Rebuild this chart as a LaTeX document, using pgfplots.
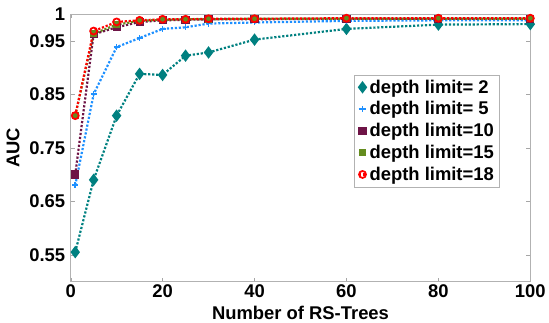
\documentclass[border=0pt]{standalone}
\usepackage{pgfplots}
\pgfplotsset{compat=1.18}
\usepackage{fontspec}
\setmainfont{Liberation Sans}
\definecolor{cA}{RGB}{0,128,128}
\definecolor{cB}{RGB}{30,144,255}
\definecolor{cC}{RGB}{110,20,70}
\definecolor{cD}{RGB}{100,140,30}
\definecolor{cE}{RGB}{255,0,0}
\begin{document}
\begin{tikzpicture}
\begin{axis}[
  scale only axis,
  width=462pt, height=269pt,
  xmin=0, xmax=100, ymin=0.5, ymax=1,
  xtick={0,20,40,60,80,100},
  ytick={0.55,0.65,0.75,0.85,0.95,1},
  yticklabels={0.55,0.65,0.75,0.85,0.95,1},
  /pgf/number format/assume math mode=true,
  tick label style={font=\bfseries\fontsize{18.5}{21}\selectfont},
  yticklabel style={xshift=-2pt},
  label style={font=\bfseries\fontsize{18.5}{21}\selectfont},
  xlabel={Number of RS-Trees},
  ylabel={AUC},
  xlabel style={yshift=-1pt},
  ylabel style={yshift=3pt},
  axis line style={gray!60},
  tick style={gray!70},
  major tick length=4pt,
  legend style={at={(0.617,0.773)}, anchor=north west, draw=gray!60,
    font=\bfseries\fontsize{18.5}{21}\selectfont, inner sep=3pt, row sep=3pt},
  legend cell align=left,
  legend image code/.code={\draw[mark repeat=2,mark phase=2] plot coordinates {(0cm,0cm)(0.14cm,0cm)(0.28cm,0cm)};},
  every axis plot/.append style={line width=2.2pt, dash pattern=on 2.2pt off 1.8pt},
]
\addplot[cA, mark=diamond*, mark size=4.5pt, mark options={solid,fill=cA}] coordinates {
(1,0.555)(5,0.69)(10,0.81)(15,0.888)(20,0.886)(25,0.922)(30,0.928)(40,0.952)(60,0.972)(80,0.980)(100,0.981)};
\addlegendentry{depth limit= 2}
\addplot[cB, mark=+, mark size=3pt, mark options={solid,line width=1.5pt}] coordinates {
(1,0.68)(5,0.85)(10,0.938)(15,0.955)(20,0.972)(25,0.975)(30,0.982)(40,0.984)(60,0.987)(80,0.988)(100,0.988)};
\addlegendentry{depth limit= 5}
\addplot[cC, mark=square*, mark size=3pt, mark options={solid,fill=cC}] coordinates {
(1,0.70)(5,0.962)(10,0.975)(15,0.985)(20,0.988)(25,0.989)(30,0.990)(40,0.990)(60,0.991)(80,0.991)(100,0.991)};
\addlegendentry{depth limit=10}
\addplot[cD, mark=square*, mark size=2.2pt, mark options={solid,fill=cD}] coordinates {
(1,0.81)(5,0.963)(10,0.98)(15,0.987)(20,0.989)(25,0.990)(30,0.990)(40,0.991)(60,0.991)(80,0.991)(100,0.991)};
\addlegendentry{depth limit=15}
\addplot[cE, mark=o, mark size=3.5pt, mark options={solid,line width=1.8pt,fill=white}] coordinates {
(1,0.81)(5,0.968)(10,0.985)(15,0.988)(20,0.990)(25,0.990)(30,0.991)(40,0.991)(60,0.992)(80,0.992)(100,0.992)};
\addlegendentry{depth limit=18}
\end{axis}
\path (current axis.north west) ++(-71pt,14pt);
\end{tikzpicture}
\end{document}
